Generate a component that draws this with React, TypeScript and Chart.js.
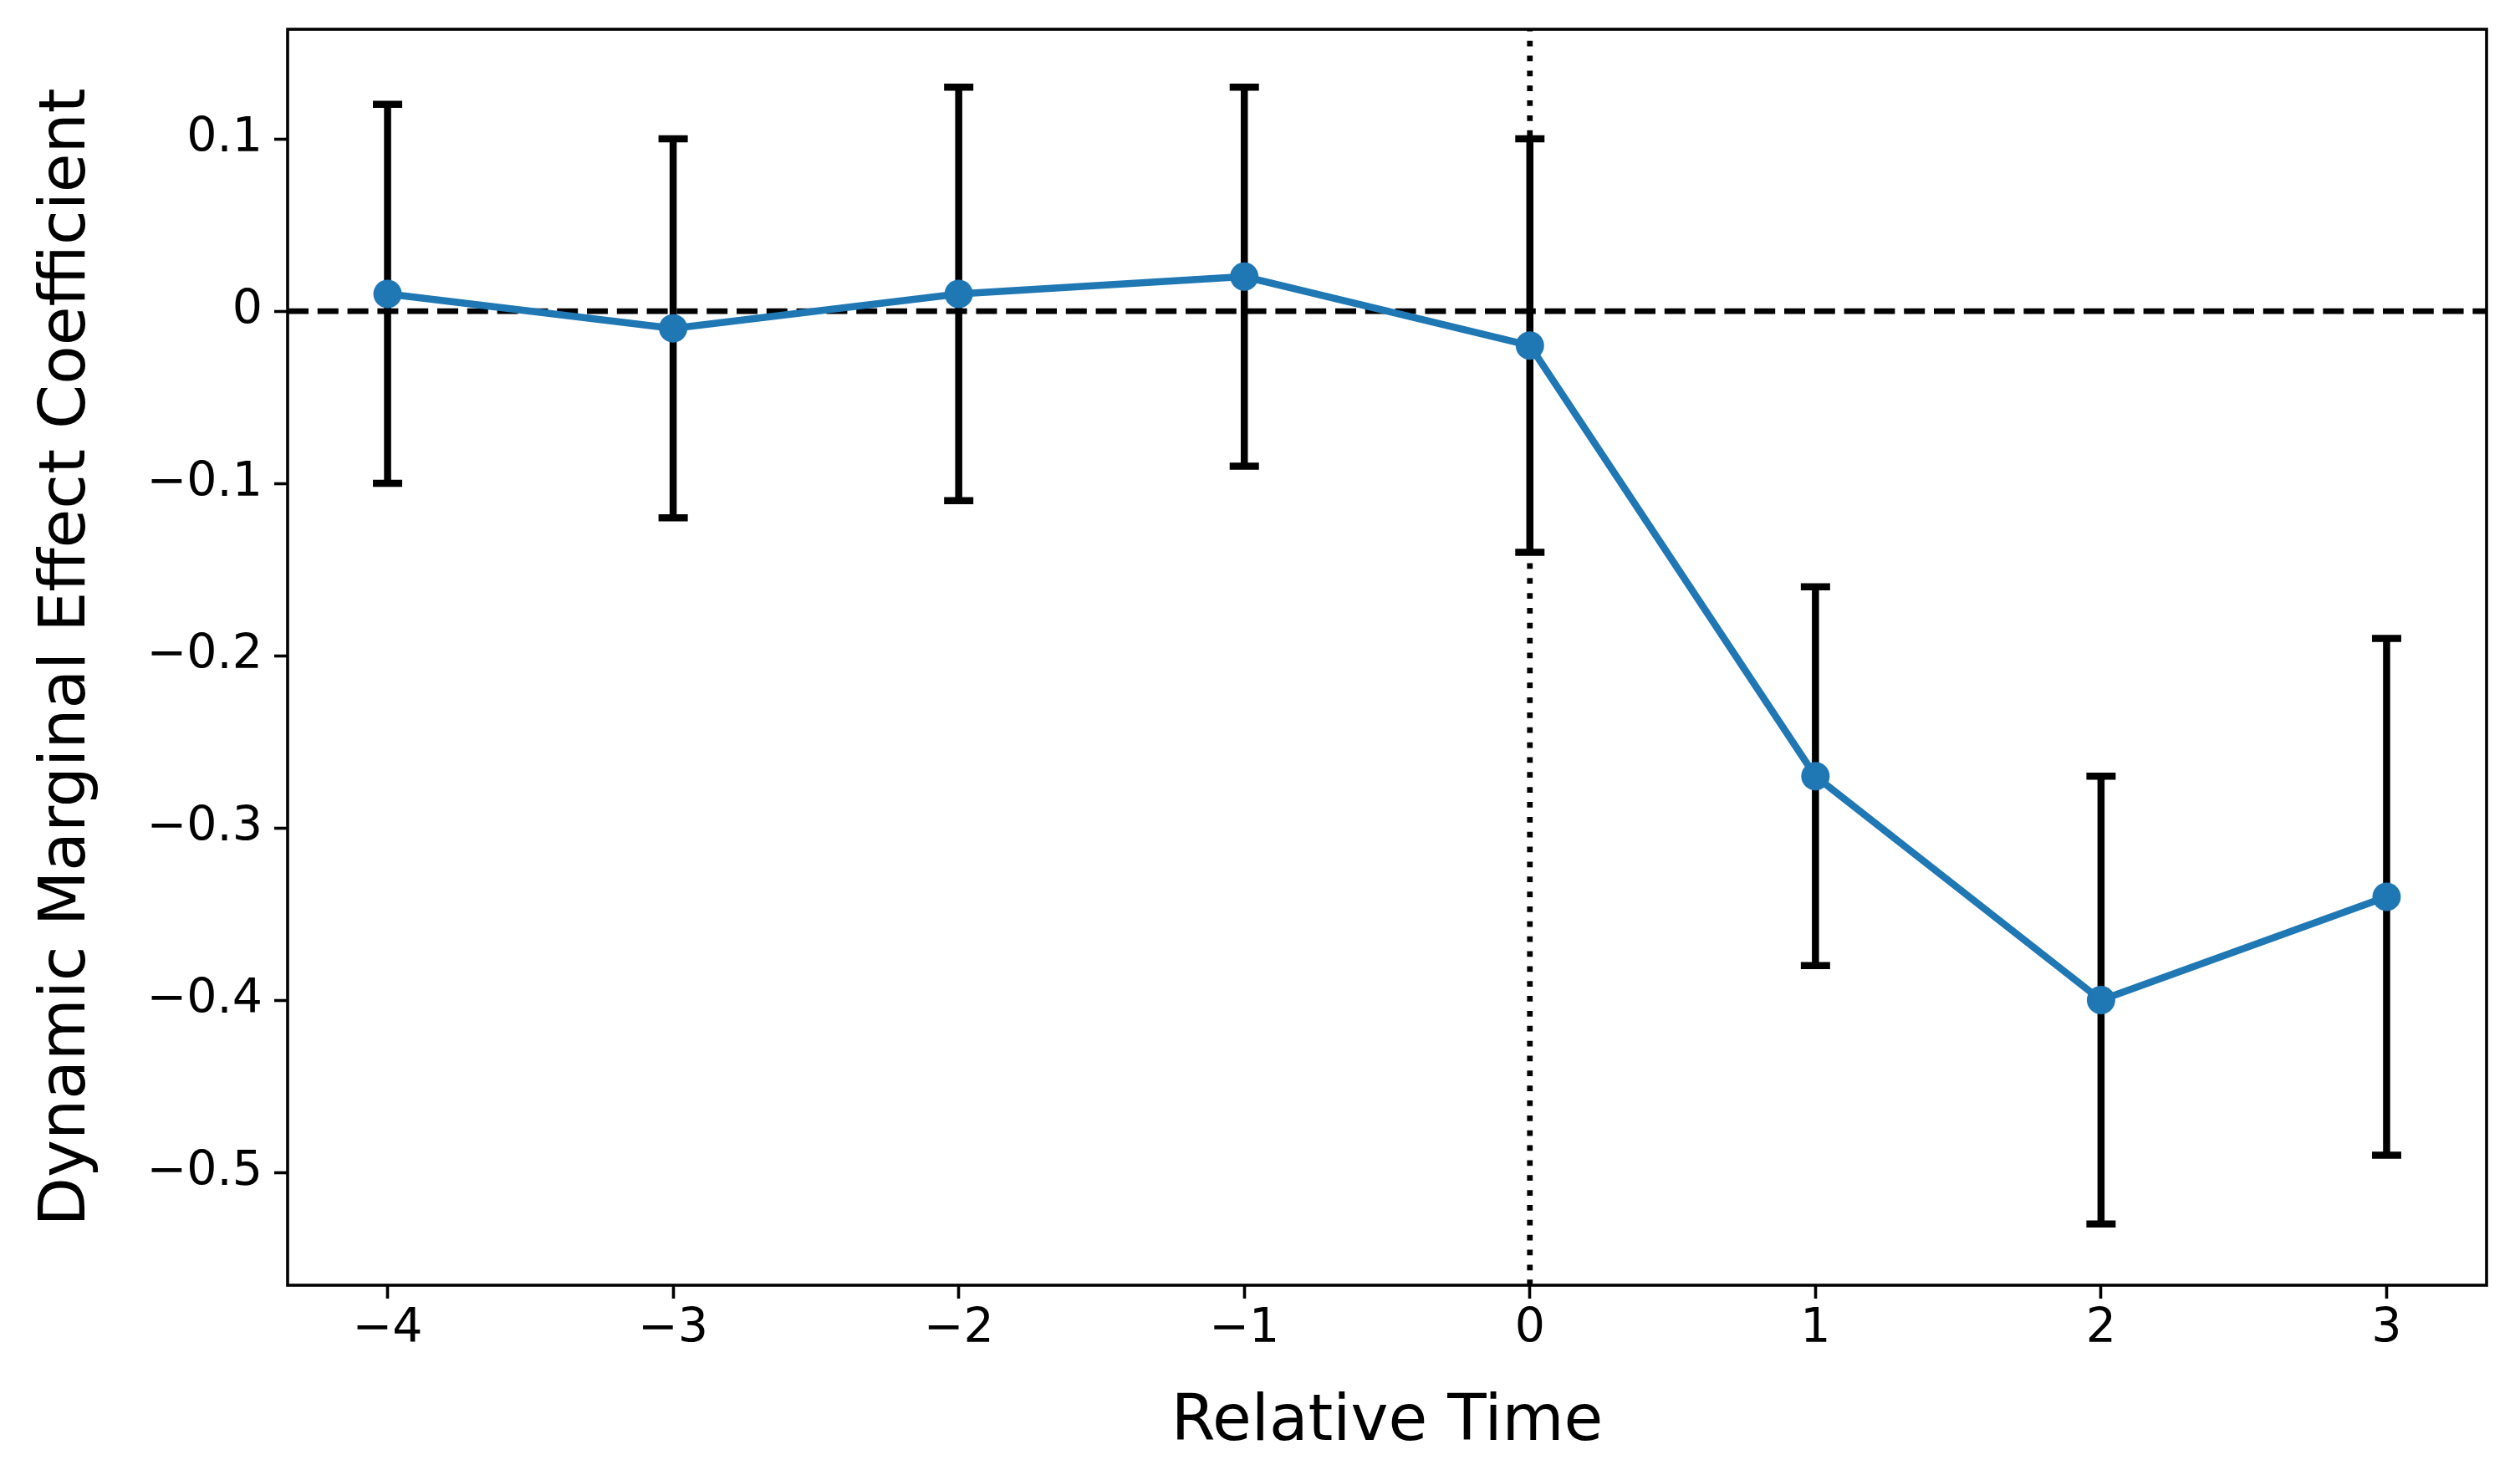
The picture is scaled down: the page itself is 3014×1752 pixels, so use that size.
import React, { useEffect, useRef } from "react";
import { Chart, registerables } from "chart.js";

Chart.register(...registerables);

// ---- data ----
const relTime = [-4, -3, -2, -1, 0, 1, 2, 3];
const coef = [0.01, -0.01, 0.01, 0.02, -0.02, -0.27, -0.4, -0.34];
const ciLower = [-0.1, -0.12, -0.11, -0.09, -0.14, -0.38, -0.53, -0.49];
const ciUpper = [0.12, 0.1, 0.13, 0.13, 0.1, -0.16, -0.27, -0.19];

const xTickValues = [-4, -3, -2, -1, 0, 1, 2, 3];
const xTickLabels = ["\u22124", "\u22123", "\u22122", "\u22121", "0", "1", "2", "3"];
const yTickValues = [-0.5, -0.4, -0.3, -0.2, -0.1, 0, 0.1];
const yTickLabels = ["\u22120.5", "\u22120.4", "\u22120.3", "\u22120.2", "\u22120.1", "0", "0.1"];

const xMin = -4.35;
const xMax = 3.35;
const yMin = -0.5655;
const yMax = 0.1636;

const refLineY = 0;
const refLineX = 0;

const xTitle = "Relative Time";
const yTitle = "Dynamic Marginal Effect Coefficient";

const BLUE = "#1f77b4";
const FONT = "'DejaVu Sans', sans-serif";

const overlayPlugin = {
  id: "overlay",
  beforeDatasetsDraw(chart: any) {
    const { ctx, chartArea: a, scales } = chart;
    const xs = scales.x;
    const ys = scales.y;
    ctx.save();
    ctx.beginPath();
    ctx.rect(a.left, a.top, a.right - a.left, a.bottom - a.top);
    ctx.clip();
    ctx.strokeStyle = "#000";
    ctx.lineCap = "butt";

    // dotted vertical line
    ctx.lineWidth = 6.75;
    ctx.setLineDash([6.75, 11.1]);
    const vx = xs.getPixelForValue(refLineX);
    ctx.beginPath();
    ctx.moveTo(vx, a.bottom);
    ctx.lineTo(vx, a.top);
    ctx.stroke();

    // dashed horizontal line
    ctx.setLineDash([25, 10.8]);
    const hy = ys.getPixelForValue(refLineY);
    ctx.beginPath();
    ctx.moveTo(a.left, hy);
    ctx.lineTo(a.right, hy);
    ctx.stroke();
    ctx.setLineDash([]);

    // error bars
    ctx.lineWidth = 8.5;
    const cap = 17.5;
    for (let i = 0; i < relTime.length; i++) {
      const px = xs.getPixelForValue(relTime[i]);
      const yl = ys.getPixelForValue(ciLower[i]);
      const yh = ys.getPixelForValue(ciUpper[i]);
      ctx.beginPath();
      ctx.moveTo(px, yl);
      ctx.lineTo(px, yh);
      ctx.moveTo(px - cap, yl);
      ctx.lineTo(px + cap, yl);
      ctx.moveTo(px - cap, yh);
      ctx.lineTo(px + cap, yh);
      ctx.stroke();
    }
    ctx.restore();
  },
  afterDraw(chart: any) {
    const { ctx, chartArea: a } = chart;
    ctx.save();
    ctx.strokeStyle = "#000";
    ctx.lineWidth = 3.6;
    ctx.strokeRect(a.left, a.top, a.right - a.left, a.bottom - a.top);
    ctx.restore();
  },
};

export default function App() {
  const canvasRef = useRef<HTMLCanvasElement | null>(null);

  useEffect(() => {
    if (!canvasRef.current) return;
    const chart = new Chart(canvasRef.current, {
      type: "line",
      data: {
        datasets: [
          {
            data: relTime.map((t, i) => ({ x: t, y: coef[i] })),
            borderColor: BLUE,
            backgroundColor: BLUE,
            borderWidth: 8.5,
            pointRadius: 17,
            pointBorderWidth: 0,
            pointBackgroundColor: BLUE,
            pointHoverRadius: 17,
            tension: 0,
            fill: false,
          },
        ],
      },
      options: {
        responsive: false,
        maintainAspectRatio: false,
        devicePixelRatio: 1,
        animation: false,
        events: [],
        layout: { padding: { top: 35, right: 40, left: 0, bottom: 0 } },
        plugins: {
          legend: { display: false },
          tooltip: { enabled: false },
          title: { display: false },
        },
        scales: {
          x: {
            type: "linear",
            position: "bottom",
            min: xMin,
            max: xMax,
            afterBuildTicks: (scale: any) => {
              scale.ticks = xTickValues.map((v) => ({ value: v }));
            },
            afterFit: (scale: any) => {
              scale.height = 215;
              scale.paddingLeft = 0;
              scale.paddingRight = 0;
            },
            ticks: {
              autoSkip: false,
              maxRotation: 0,
              minRotation: 0,
              padding: 3,
              color: "#000",
              font: { family: FONT, size: 57 },
              callback: (_v: any, i: number) => xTickLabels[i],
            },
            grid: {
              drawOnChartArea: false,
              drawTicks: true,
              tickLength: 16,
              tickWidth: 3.6,
              tickColor: "#000",
            },
            border: { display: false },
            title: {
              display: true,
              text: xTitle,
              color: "#000",
              font: { family: FONT, size: 76 },
              padding: { top: 0, bottom: 4 },
            },
          },
          y: {
            type: "linear",
            position: "left",
            min: yMin,
            max: yMax,
            afterBuildTicks: (scale: any) => {
              scale.ticks = yTickValues.map((v) => ({ value: v }));
            },
            afterFit: (scale: any) => {
              scale.width = 344;
              scale.paddingTop = 0;
              scale.paddingBottom = 0;
            },
            ticks: {
              autoSkip: false,
              padding: 14,
              color: "#000",
              font: { family: FONT, size: 57 },
              callback: (_v: any, i: number) => yTickLabels[i],
            },
            grid: {
              drawOnChartArea: false,
              drawTicks: true,
              tickLength: 16,
              tickWidth: 3.6,
              tickColor: "#000",
            },
            border: { display: false },
            title: {
              display: true,
              text: yTitle,
              color: "#000",
              font: { family: FONT, size: 76 },
              padding: { top: 36, bottom: 0 },
            },
          },
        },
      },
      plugins: [overlayPlugin],
    } as any);
    return () => chart.destroy();
  }, []);

  return (
    <div style={{ position: "absolute", left: 0, top: 0, width: 3014, height: 1752, background: "#fff" }}>
      <canvas ref={canvasRef} width={3014} height={1752} style={{ display: "block" }} />
    </div>
  );
}
